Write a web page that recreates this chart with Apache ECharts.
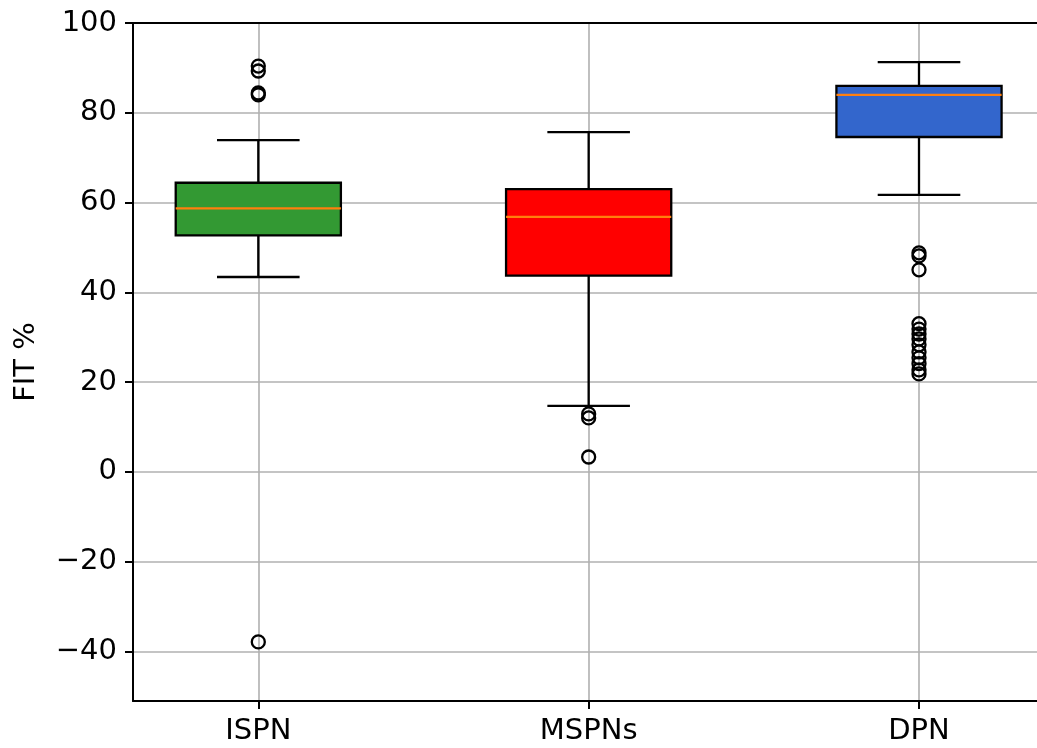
<!DOCTYPE html>
<html>
<head>
<meta charset="utf-8">
<script src="https://cdn.jsdelivr.net/npm/echarts@6/dist/echarts.min.js"></script>
<style>
  html, body { margin: 0; padding: 0; background: #fff; }
  #chart { width: 1037px; height: 748px; }
</style>
</head>
<body>
<div id="chart"></div>
<script>
// box statistics
const categories = ['ISPN', 'MSPNs', 'DPN'];
const lowerWhisker = [43.4, 14.7, 61.7];
const q1 = [52.7, 43.7, 74.6];
const median = [58.7, 56.8, 84.0];
const q3 = [64.4, 63.0, 86.0];
const upperWhisker = [73.9, 75.7, 91.3];
const outliersISPN = [90.4, 89.3, 84.4, 84.0, -37.9];
const outliersMSPNs = [12.9, 12.0, 3.3];
const outliersDPN = [48.8, 48.1, 45.0, 33.0, 31.8, 30.7, 29.6, 28.3, 26.7, 25.4, 24.1, 22.7, 21.8];
const yTicks = [-40, -20, 0, 20, 40, 60, 80, 100];
const xTicks = [1, 2, 3];
const boxColors = ['#339933', '#ff0000', '#3366cc'];

const boxRows = categories.map((c, i) =>
  [i + 1, lowerWhisker[i], q1[i], median[i], q3[i], upperWhisker[i], i]);

const outlierRows = [];
[outliersISPN, outliersMSPNs, outliersDPN].forEach((arr, i) => {
  arr.forEach(v => outlierRows.push([i + 1, v]));
});

const FONT = 'DejaVu Sans';
const X_MIN = 0.6207, X_MAX = 3.3572;
const LW = 2.3;
const chart = echarts.init(document.getElementById('chart'));

function renderBox(params, api) {
  const x = api.value(0);
  const lo = api.value(1), b1 = api.value(2), med = api.value(3), b3 = api.value(4), hi = api.value(5);
  const color = boxColors[api.value(6)];
  const half = 0.25, cap = 0.125;
  const pTL = api.coord([x - half, b3]);
  const pBR = api.coord([x + half, b1]);
  const line = (a, b, stroke) => ({
    type: 'line',
    shape: { x1: a[0], y1: a[1], x2: b[0], y2: b[1] },
    style: { stroke: stroke || '#000', lineWidth: LW }
  });
  return {
    type: 'group',
    children: [
      line(api.coord([x, b3]), api.coord([x, hi])),
      line(api.coord([x, b1]), api.coord([x, lo])),
      line(api.coord([x - cap, hi]), api.coord([x + cap, hi])),
      line(api.coord([x - cap, lo]), api.coord([x + cap, lo])),
      {
        type: 'rect',
        shape: { x: pTL[0], y: pTL[1], width: pBR[0] - pTL[0], height: pBR[1] - pTL[1] },
        style: { fill: color, stroke: '#000', lineWidth: LW }
      },
      line(api.coord([x - half, med]), api.coord([x + half, med]), '#ff7f0e')
    ]
  };
}

const option = {
  animation: false,
  grid: { left: 133, right: 0, top: 23, bottom: 47 },
  xAxis: [
    {
      type: 'value',
      min: X_MIN,
      max: X_MAX,
      interval: 1,
      axisLine: { show: true, onZero: false, lineStyle: { color: '#000', width: 2 } },
      axisTick: { show: true, length: 8, customValues: xTicks, lineStyle: { color: '#000', width: 2 } },
      axisLabel: {
        customValues: xTicks,
        formatter: v => categories[Math.round(v) - 1] || '',
        fontFamily: FONT, fontSize: 29, color: '#000', margin: 16
      },
      splitLine: { show: true, lineStyle: { color: '#b0b0b0', width: 1.6 } }
    },
    {
      type: 'value',
      position: 'top',
      min: X_MIN,
      max: X_MAX,
      axisLine: { show: true, onZero: false, lineStyle: { color: '#000', width: 2 } },
      axisTick: { show: false },
      axisLabel: { show: false },
      splitLine: { show: false }
    }
  ],
  yAxis: {
    type: 'value',
    min: -51.07,
    max: 100,
    interval: 20,
    name: 'FIT %',
    nameLocation: 'middle',
    nameGap: 92,
    nameTextStyle: { fontFamily: FONT, fontSize: 29, color: '#000' },
    axisLine: { show: true, onZero: false, lineStyle: { color: '#000', width: 2 } },
    axisTick: { show: true, length: 8, customValues: yTicks, lineStyle: { color: '#000', width: 2 } },
    axisLabel: {
      customValues: yTicks,
      formatter: v => String(v).replace('-', '\u2212'),
      fontFamily: FONT, fontSize: 29, color: '#000', margin: 16
    },
    splitLine: { show: true, lineStyle: { color: '#b0b0b0', width: 1.6 } }
  },
  series: [
    {
      type: 'custom',
      renderItem: renderBox,
      data: boxRows,
      encode: { x: 0, y: [1, 2, 3, 4, 5] },
      z: 2
    },
    {
      type: 'scatter',
      data: outlierRows,
      symbol: 'circle',
      symbolSize: 13,
      itemStyle: { color: 'rgba(0,0,0,0)', borderColor: '#000', borderWidth: LW, opacity: 1 },
      z: 3
    }
  ]
};

chart.setOption(option);
</script>
</body>
</html>
